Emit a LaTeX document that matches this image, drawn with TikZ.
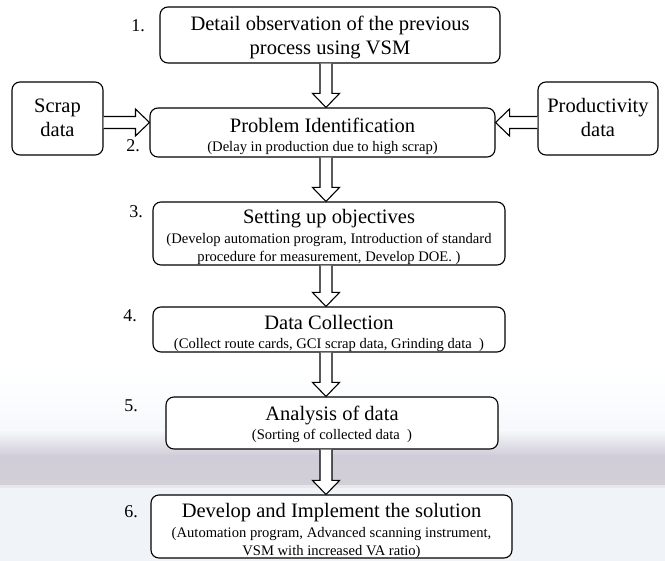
\documentclass[tikz,border=0pt]{standalone}
\usepackage{fontspec}
\setmainfont{Liberation Serif}
\usetikzlibrary{calc}
\definecolor{bgA}{HTML}{F6F9FC}
\definecolor{bgB}{HTML}{D0CDD8}
\definecolor{bgC}{HTML}{D3CFD6}
\definecolor{bgD}{HTML}{F0F4F9}
\newcommand\mainf{\fontsize{20.5}{24}\selectfont}
\newcommand\subf{\fontsize{14.6}{18}\selectfont}
\newcommand\blockarr[2]{%
  \coordinate (H) at ($(#2)!14pt!(#1)$);
  \draw[barrow] ($(#1)!6pt!90:(#2)$) -- ($(H)!6pt!90:(#2)$) -- ($(H)!13.5pt!90:(#2)$) -- (#2)
    -- ($(H)!13.5pt!-90:(#2)$) -- ($(H)!6pt!-90:(#2)$) -- ($(#1)!6pt!-90:(#2)$);}
\begin{document}
\begin{tikzpicture}[x=1pt,y=-1pt,
  box/.style={draw, line width=1.1pt, rounded corners=8pt, fill=white, inner sep=0pt},
  txt/.style={align=center, inner sep=0pt, font=\mainf},
  num/.style={font=\fontsize{18}{20}\selectfont, inner sep=0pt},
  barrow/.style={draw, line width=1.1pt, fill=white, line join=miter}]
\useasboundingbox (0,0) rectangle (665,561);
% background
\fill[white] (0,0) rectangle (665,370);
\shade[top color=white, bottom color=bgA] (0,370) rectangle (665,430);
\shade[top color=bgA, bottom color=bgB] (0,430) rectangle (665,456);
\shade[top color=bgB, bottom color=bgC] (0,455.5) rectangle (665,486);
\fill[white!50!bgC] (0,485.5) rectangle (665,489);
\fill[bgD] (0,488.5) rectangle (665,561);
% boxes
\node[box, minimum width=340pt, minimum height=56pt] (b1) at (330,35) {};
\node[box, minimum width=91pt, minimum height=73pt] (scrap) at (57.5,118.5) {};
\node[box, minimum width=120pt, minimum height=73pt] (prod) at (598,118.5) {};
\node[box, minimum width=345pt, minimum height=49pt] (b2) at (322.5,132.5) {};
\node[box, minimum width=352pt, minimum height=63pt] (b3) at (329,233.5) {};
\node[box, minimum width=352pt, minimum height=45pt] (b4) at (329,329.5) {};
\node[box, minimum width=332pt, minimum height=52pt] (b5) at (332,423) {};
\node[box, minimum width=361pt, minimum height=63pt] (b6) at (331.5,526.5) {};
% texts
\node[txt] (t1) at ($(b1.center)+(0,2)$) {Detail observation of the previous\\process using VSM};
\node[txt] (ts) at ($(scrap.center)+(0,-1)$) {Scrap\\data};
\node[txt] (tp) at ($(prod.center)+(0,-1)$) {Productivity\\data};
\node[txt] (t2) at ($(b2.center)+(0,4)$)
  {Problem Identification\\[-5pt]{\subf (Delay in production due to high scrap)}};
\node[txt] (t3) at ($(b3.center)+(0,3)$)
  {Setting up objectives\\[-4pt]{\subf (Develop automation program, Introduction of standard}\\[-6pt]{\subf procedure for measurement, Develop DOE. )}};
\node[txt] (t4) at ($(b4.center)+(0,4)$)
  {Data Collection\\[-5pt]{\subf (Collect route cards, GCI scrap data, Grinding data~~)}};
\node[txt] (t5) at ($(b5.center)+(0,1)$)
  {Analysis of data\\[-5pt]{\subf (Sorting of collected data~~)}};
\node[txt] (t6) at ($(b6.center)+(0,4)$)
  {Develop and Implement the solution\\[-4pt]{\subf (Automation program, Advanced scanning instrument,}\\[-6pt]{\subf VSM with increased VA ratio)}};
% numbers
\node[num] (n1) at (138,26) {1.};
\node[num] (n2) at (133,146) {2.};
\node[num] (n3) at (136,212) {3.};
\node[num] (n4) at (130,316) {4.};
\node[num] (n5) at (131,406) {5.};
\node[num] (n6) at (131,512) {6.};
% arrows
\coordinate (ax) at (326,0);
\coordinate (ay) at (0,122.5);
\blockarr{b1.south -| ax}{b2.north -| ax}
\blockarr{b2.south -| ax}{b3.north -| ax}
\blockarr{b3.south -| ax}{b4.north -| ax}
\blockarr{b4.south -| ax}{b5.north -| ax}
\blockarr{b5.south -| ax}{b6.north -| ax}
\blockarr{scrap.east |- ay}{b2.west |- ay}
\blockarr{prod.west |- ay}{b2.east |- ay}
\end{tikzpicture}
\end{document}
